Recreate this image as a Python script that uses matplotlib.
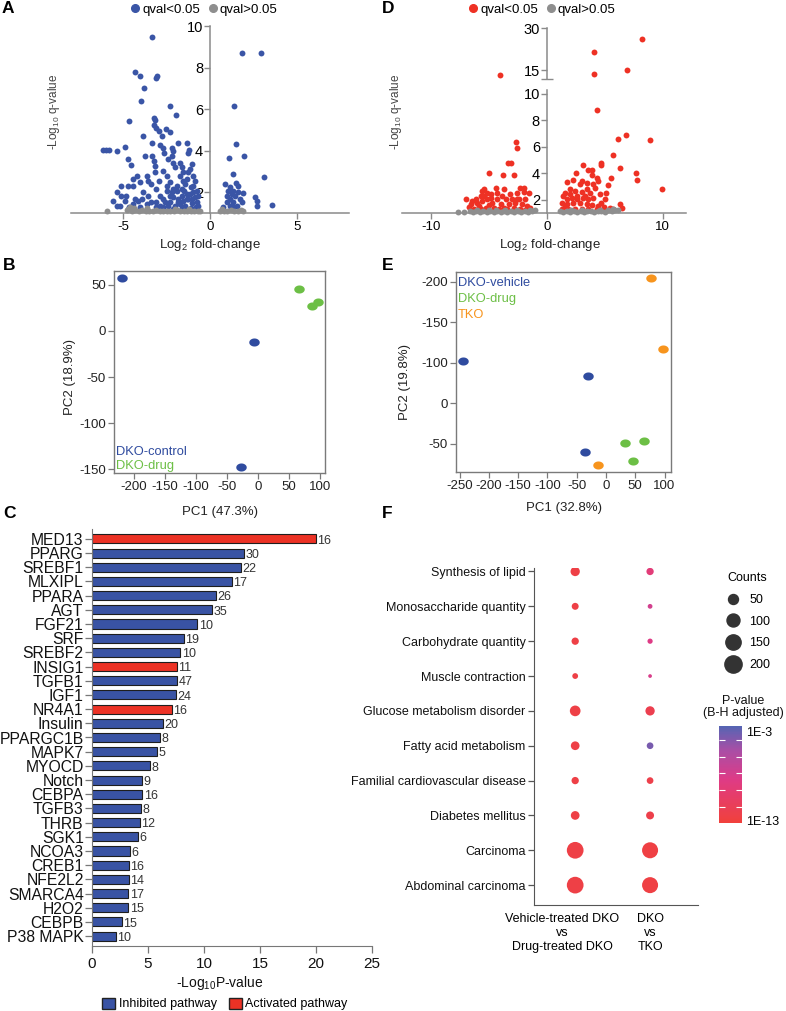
import numpy as np
import matplotlib.pyplot as plt
from matplotlib.path import Path
from matplotlib.patches import Patch
from matplotlib.lines import Line2D
from matplotlib.colors import LinearSegmentedColormap, Normalize
from matplotlib.transforms import ScaledTranslation

plt.rcParams['font.family'] = ['Liberation Sans', 'DejaVu Sans']
plt.rcParams['mathtext.fontset'] = 'custom'
plt.rcParams['mathtext.rm'] = 'Liberation Sans'
plt.rcParams['mathtext.it'] = 'Liberation Sans:italic'
plt.rcParams['mathtext.bf'] = 'Liberation Sans:bold'
plt.rcParams['mathtext.default'] = 'regular'
plt.rcParams['axes.unicode_minus'] = False

# ---------------- data ----------------
# A: volcano, DKO-control vs DKO-drug
a_sig_x = [-3.33, -4.29, -4.02, -3.04, -3.08, -3.79, -3.96, -2.29, -1.96, -3.23, -3.15, -4.67, -3.25, -3.08,
           -2.56, -2.29, -2.96, -2.75, -3.87, -1.87, -3.31, -2.88, -1.35, -1.23, -1.29, -6.15, -5.96, -5.81,
           -5.38, -4.9, -3.75, -4.71, -4.52, -3.31, -3.25, -2.73, -2.65, -2.21, -2.12, -3.15, -1.73, -1.63,
           -1.58, -4.46, -4.23, -4.04, -3.65, -3.56, -4.42, -5.1, -4.71, -5.38, -5.1, -5.58, -5.35, -4.9,
           -4.81, -4.33, -4.13, -3.85, -3.94,
           -3.37, -3.17, -2.92, -2.69, -2.5, -2.4, -2.21, -2.12, -2.02, -3.08, -2.88, -3.56, -3.37, -3.65,
           -3.08, -2.69, -2.5, -2.31, -1.73, -1.58, -1.44, -1.35, -1.25, -1.15, -1.06, -1.48, -1.12, -0.96,
           -0.87, -0.77, -0.67, -1.06, -1.35, -1.63, -1.92, -2.12, -2.31, -2.02, -1.73, -1.44, -1.25, -1.15,
           -1.54, -1.83, -2.21, -2.5, -2.69, -2.4, -2.88, -3.08, -4.04, -4.42, -4.69, -5.19, -0.96, -0.77,
           -0.87, -1.0, -0.67, -1.35, -1.63, -1.92, -2.12, -2.31, -2.6, -1.83, -1.06, -0.81, -1.12, -1.63,
           -2.12,
           1.87, 2.94, 1.37, 1.5, 1.96, 1.12, 1.31, 3.13, 1.5, 1.63, 1.88, 2.6, 2.69, 2.69, 3.56, 0.87, 1.15,
           1.35, 0.96, 1.15, 1.35, 1.54, 0.96, 1.15, 0.77, 1.73, 1.44, 1.25, 1.63, 1.83, 1.35, 1.06]
a_sig_y = [9.49, 7.8, 7.58, 7.58, 7.5, 7.02, 6.41, 6.14, 5.74, 5.58, 5.5, 5.42, 5.23, 5.1,
           5.06, 4.9, 4.93, 4.7, 4.7, 4.39, 4.39, 4.26, 4.35, 4.03, 3.88, 4.02, 4.02, 4.02,
           3.99, 4.2, 3.75, 3.59, 3.32, 3.75, 3.51, 4.15, 3.9, 4.15, 3.99, 3.27, 3.43, 3.19,
           2.95, 2.63, 2.79, 2.47, 2.79, 2.55, 2.31, 2.31, 2.31, 2.0, 1.84, 1.6, 1.36, 1.6,
           1.84, 1.67, 1.6, 2.0, 1.67,
           2.39, 2.95, 2.55, 3.03, 2.79, 3.59, 3.75, 3.43, 3.19, 2.15, 1.84, 1.84, 1.52, 1.44,
           1.52, 1.67, 2.31, 2.47, 2.79, 2.55, 2.39, 2.63, 2.95, 3.11, 3.35, 2.07, 2.23, 1.99,
           1.75, 1.52, 1.36, 1.48, 1.67, 1.84, 2.07, 1.75, 1.52, 1.36, 1.44, 1.36, 1.67, 1.91,
           1.59, 1.67, 1.99, 2.07, 1.28, 1.36, 1.36, 1.28, 1.28, 1.44, 1.28, 1.33, 2.31, 2.07,
           2.55, 2.79, 1.83, 1.91, 2.15, 2.31, 2.15, 1.84, 1.52, 1.52, 1.67, 1.28, 1.23, 1.23,
           1.2,
           8.69, 8.69, 6.17, 4.31, 3.75, 3.67, 2.9, 2.74, 2.42, 2.31, 1.95, 1.75, 1.56, 1.32, 1.39, 2.39, 2.23,
           2.07, 1.83, 1.67, 1.52, 1.36, 1.52, 1.36, 1.28, 1.67, 1.83, 1.91, 1.99, 1.52, 1.28, 2.07]
a_ns_x = [-5.9, -4.8, -4.7, -4.5, -4.3, -4.1, -3.9, -3.7, -3.5, -3.3, -3.1, -2.9, -2.7, -2.5, -2.3, -2.1,
          -1.9, -1.7, -1.5, -1.3, -1.1, -0.9, -0.7, -0.55, -2.0, -1.2, -3.6, -4.4, -4.6,
          0.6, 0.7, 0.8, 1.0, 1.2, 1.4, 1.6, 1.8, 1.9]
a_ns_y = [1.1, 1.15, 1.2, 1.1, 1.15, 1.1, 1.15, 1.1, 1.12, 1.1, 1.15, 1.1, 1.12, 1.08, 1.12, 1.1,
          1.15, 1.1, 1.12, 1.08, 1.12, 1.1, 1.12, 1.1, 1.2, 1.2, 1.22, 1.25, 1.3,
          1.1, 1.2, 1.12, 1.1, 1.15, 1.1, 1.12, 1.15, 1.1]

# D: volcano, DKO vs TKO
d_sig_x = [-2.63, -2.57, -3.37, -3.09, -4.97, -3.77, -2.86, -7.0, -2.0, -1.57, -1.94, -5.43, -5.57, -4.43,
           -3.71, -2.57, -2.29, -5.2, -4.86, -4.29, -5.71, -6.14, -6.43, -6.0, -6.71, -6.29, -5.57, -5.14,
           -4.71, -4.29, -4.0, -3.57, -3.29, -3.0, -2.71, -2.43, -2.14, -1.86, -1.71, -2.86, -3.71, -4.57,
           -5.29, -5.71, -5.0, -4.14, -3.43, -2.29, -1.86, -1.43, -5.86, -4.86, -3.86, -3.14, -5.43, -6.57,
           -2.57,
           4.29, 6.14, 6.86, 8.86, 5.71, 6.34, 7.66, 7.77, 9.94, 4.66, 4.66, 3.14, 3.51, 3.86, 2.49, 2.29,
           1.71, 5.57, 5.29, 3.86, 4.29, 4.43, 3.0, 3.43, 4.0, 4.14, 3.43, 2.86, 1.57, 2.0, 2.43, 3.0, 3.71,
           4.57, 5.09, 5.0, 4.71, 1.43, 1.71, 2.14, 2.57, 3.09, 3.57, 4.0, 1.29, 1.71, 2.29, 2.86, 3.43, 3.86,
           4.43, 4.91, 5.43, 6.29, 6.51, 1.29, 1.86, 2.43, 3.0, 3.57, 4.29, 2.0, 2.57, 3.29, 5.71, 1.57,
           -4.05, 4.1, 4.1, 6.9, 8.2]
d_sig_y = [6.4, 5.9, 4.79, 4.79, 4.01, 3.84, 3.84, 2.08, 2.9, 2.53, 2.58, 2.83, 2.65, 2.9,
           2.78, 2.53, 2.9, 2.53, 2.4, 2.53, 2.28, 2.03, 1.9, 1.72, 1.47, 1.27, 1.9, 2.03,
           1.77, 2.03, 1.65, 2.03, 1.65, 2.03, 1.72, 2.03, 1.65, 2.03, 1.52, 1.4, 1.4, 1.4,
           1.4, 1.27, 1.57, 1.27, 1.27, 1.27, 1.22, 1.4, 1.52, 2.15, 2.28, 2.4, 2.28, 1.65,
           2.03,
           8.79, 6.6, 6.93, 6.55, 5.37, 4.39, 3.99, 3.46, 2.83, 4.79, 4.62, 4.62, 4.24, 4.24, 4.04, 3.53,
           3.33, 3.66, 3.13, 3.91, 3.66, 3.41, 3.41, 3.28, 3.16, 2.91, 2.83, 3.16, 2.53, 2.78, 2.65, 2.58, 2.53,
           2.4, 2.53, 2.03, 1.77, 2.28, 2.03, 2.15, 2.28, 2.15, 2.03, 2.15, 1.77, 1.65, 1.77, 1.72, 1.65, 1.57,
           1.52, 1.47, 1.4, 1.65, 1.4, 1.27, 1.32, 1.27, 1.32, 1.27, 1.32, 2.4, 2.03, 2.28, 1.32, 1.52,
           13.2, 21.4, 13.6, 15.0, 26.0]
d_ns_x = [-7.7, -7.15, -6.6, -6.4, -6.1, -5.8, -5.5, -5.2, -4.9, -4.6, -4.3, -4.0, -3.7, -3.4, -3.1, -2.8,
          -2.5, -2.2, -1.9, -1.6, -1.3, -1.05, -6.0, -5.0, -4.4, -3.6, -2.6, -1.5,
          1.15, 1.4, 1.7, 2.0, 2.3, 2.6, 2.9, 3.2, 3.5, 3.8, 4.1, 4.4, 4.7, 5.0, 5.3, 5.6, 5.9, 6.1,
          2.1, 3.0, 4.6, 5.7]
d_ns_y = [1.1, 1.1, 1.15, 1.1, 1.12, 1.1, 1.15, 1.1, 1.12, 1.1, 1.15, 1.1, 1.12, 1.1, 1.15, 1.1,
          1.12, 1.1, 1.15, 1.1, 1.12, 1.2, 1.2, 1.22, 1.2, 1.22, 1.2, 1.22,
          1.12, 1.1, 1.15, 1.1, 1.12, 1.1, 1.15, 1.1, 1.12, 1.15, 1.1, 1.12, 1.15, 1.1, 1.2, 1.15, 1.25, 1.2,
          1.22, 1.2, 1.22, 1.3]

# B: PCA DKO-control vs DKO-drug
b_ctrl_pc1 = [-219, -6, -28]
b_ctrl_pc2 = [57, -12, -148]
b_drug_pc1 = [66, 87, 97]
b_drug_pc2 = [45, 27, 31]

# E: PCA DKO-vehicle / DKO-drug / TKO
e_veh_pc1 = [-244, -31, -36]
e_veh_pc2 = [-102, -83, 10]
e_drug_pc1 = [32, 65, 46]
e_drug_pc2 = [-1, -3, 22]
e_tko_pc1 = [77, 97, -14]
e_tko_pc2 = [-204, -117, 26]
e_ytick_labels = ['-200', '-150', '-100', '0', '-50']

# C: upstream regulators
path_names = ['MED13', 'PPARG', 'SREBF1', 'MLXIPL', 'PPARA', 'AGT', 'FGF21', 'SRF', 'SREBF2', 'INSIG1',
              'TGFB1', 'IGF1', 'NR4A1', 'Insulin', 'PPARGC1B', 'MAPK7', 'MYOCD', 'Notch', 'CEBPA', 'TGFB3',
              'THRB', 'SGK1', 'NCOA3', 'CREB1', 'NFE2L2', 'SMARCA4', 'H2O2', 'CEBPB', 'P38 MAPK']
path_logp = [20.0, 13.6, 13.3, 12.5, 11.1, 10.7, 9.4, 8.2, 7.9, 7.6, 7.6, 7.5, 7.1, 6.3, 6.1, 5.8, 5.15,
             4.5, 4.5, 4.35, 4.25, 4.1, 3.4, 3.3, 3.3, 3.25, 3.25, 2.65, 2.1]
path_counts = [16, 30, 22, 17, 26, 35, 10, 19, 10, 11, 47, 24, 16, 20, 8, 5, 8, 9, 16, 8, 12, 6, 6, 16,
               14, 17, 15, 15, 10]
path_activated = ['MED13', 'INSIG1', 'NR4A1']

# F: disease / function enrichment
f_terms = ['Synthesis of lipid', 'Monosaccharide quantity', 'Carbohydrate quantity', 'Muscle contraction',
           'Glucose metabolism disorder', 'Fatty acid metabolism', 'Familial cardiovascular disease',
           'Diabetes mellitus', 'Carcinoma', 'Abdominal carcinoma']
f_groups = ['Vehicle-treated DKO\nvs\nDrug-treated DKO', 'DKO\nvs\nTKO']
f_counts_1 = [41, 17, 20, 9, 60, 34, 20, 34, 185, 185]
f_counts_2 = [20, 4, 6, 1, 41, 15, 15, 26, 167, 167]
f_logp_1 = [-12.6, -12.6, -12.6, -12.6, -12.6, -12.6, -12.6, -12.6, -12.6, -12.6]
f_logp_2 = [-9.3, -7.6, -8.4, -8.0, -12.0, -3.5, -12.3, -12.3, -12.7, -12.7]
legend_counts = [50, 100, 150, 200]

# ---------------- style ----------------
blue_v = '#3a55a6'
red_v = '#ee3124'
grey_v = '#8e8e8e'
pca_blue = '#2f4b9f'
pca_green = '#6cbf45'
pca_orange = '#f7941d'
bar_blue = '#3953a4'
bar_red = '#ec3225'
axis_grey = '#8a8a8a'

W, H = 786, 1011
fig = plt.figure(figsize=(W / 100, H / 100), dpi=100)


def box(l, t, r, b):
    return [l / W, 1 - b / H, (r - l) / W, (b - t) / H]


def volc_style(ax):
    for s in ['top', 'right']:
        ax.spines[s].set_visible(False)
    ax.spines['left'].set_position(('data', 0))
    for s in ['left', 'bottom']:
        ax.spines[s].set_color(axis_grey)
        ax.spines[s].set_linewidth(1.1)
    ax.tick_params(colors=axis_grey, labelcolor='black', length=4, width=1)
    ax.tick_params(axis='y', labelsize=10.5, pad=1)
    ax.tick_params(axis='x', labelsize=9.5, pad=2)
    ax.patch.set_alpha(0)


def volc_legend(ax, col, cx):
    h = [Line2D([], [], marker='o', ls='', color=col, ms=5.5),
         Line2D([], [], marker='o', ls='', color=grey_v, ms=5.5)]
    ax.legend(h, ['qval<0.05', 'qval>0.05'], ncol=2, loc='center', frameon=False,
              bbox_to_anchor=(cx / W, 1 - 10 / H), bbox_transform=fig.transFigure,
              handlelength=0.7, handletextpad=0.2, columnspacing=0.6, fontsize=9.5, borderpad=0)


def pca_style(ax):
    for s in ax.spines.values():
        s.set_color('#7a7a7a')
        s.set_linewidth(1)
    ax.tick_params(colors='#7a7a7a', labelcolor='#222222', length=4, width=0.9, labelsize=9.5, pad=2)


# ---------------- A ----------------
axA = fig.add_axes(box(71, 26, 349, 213))
volc_style(axA)
axA.scatter(a_sig_x, a_sig_y, s=18, color=blue_v, lw=0, zorder=3, clip_on=False)
axA.scatter(a_ns_x, a_ns_y, s=18, color=grey_v, lw=0, zorder=3, clip_on=False)
axA.set_xlim(-8, 8)
axA.set_ylim(1, 10)
axA.set_xticks([-5, 0, 5])
axA.set_yticks([2, 4, 6, 8, 10])
axA.set_ylabel('-Log$_{10}$ q-value', fontsize=8.5, color='#444444')
axA.yaxis.set_label_coords(-0.034, 0.54)
axA.text(0.5, -0.172, 'Log$_2$ fold-change', transform=axA.transAxes, ha='center', va='center',
         fontsize=9.5, color='#222222')
volc_legend(axA, blue_v, 204)

# ---------------- D (broken y axis) ----------------
d_sig_x = np.array(d_sig_x)
d_sig_y = np.array(d_sig_y)
low = d_sig_y <= 10.3
axDl = fig.add_axes(box(402, 90, 686, 213))
axDu = fig.add_axes(box(402, 28, 686, 79))
for ax in (axDl, axDu):
    volc_style(ax)
    ax.set_xlim(-12.5, 12)
axDl.scatter(d_sig_x[low], d_sig_y[low], s=18, color=red_v, lw=0, zorder=3, clip_on=False)
axDl.scatter(d_ns_x, d_ns_y, s=18, color=grey_v, lw=0, zorder=3, clip_on=False)
axDu.scatter(d_sig_x[~low], d_sig_y[~low], s=18, color=red_v, lw=0, zorder=3, clip_on=False)
axDl.set_ylim(1, 10.3)
axDu.set_ylim(11.8, 30)
axDl.set_yticks([2, 4, 6, 8, 10])
axDu.set_yticks([15, 30])
axDu.set_yticks([11.8], minor=True)
axDu.tick_params(axis='y', which='minor', direction='inout', length=8, width=1, colors=axis_grey)
axDu.spines['bottom'].set_visible(False)
axDu.set_xticks([])
axDl.set_xticks([-10, 0, 10])
fig.text(396 / W, 1 - 112 / H, '-Log$_{10}$ q-value', rotation=90, ha='center', va='center',
         fontsize=8.5, color='#444444')
fig.text(550 / W, 1 - 245 / H, 'Log$_2$ fold-change', ha='center', va='center', fontsize=9.5,
         color='#222222')
volc_legend(axDl, red_v, 542)

# ellipse marker for PCA plots
t = np.linspace(0, 2 * np.pi, 41)
ell = Path(np.column_stack([1.3 * np.cos(t), np.sin(t)]))

# ---------------- B ----------------
axB = fig.add_axes(box(114, 271, 325, 473))
pca_style(axB)
axB.scatter(b_ctrl_pc1, b_ctrl_pc2, marker=ell, s=57, color=pca_blue, lw=0)
axB.scatter(b_drug_pc1, b_drug_pc2, marker=ell, s=57, color=pca_green, lw=0)
axB.set_xlim(-232, 108)
axB.set_ylim(-154, 65)
axB.set_xticks([-200, -150, -100, -50, 0, 50, 100])
axB.set_yticks([-150, -100, -50, 0, 50])
axB.text(0.5, -0.193, 'PC1 (47.3%)', transform=axB.transAxes, ha='center', va='center',
         fontsize=9.5, color='#222222')
axB.text(-0.209, 0.475, 'PC2 (18.9%)', transform=axB.transAxes, ha='center', va='center',
         rotation=90, fontsize=9.5, color='#222222')
axB.text(0.01, 0.104, 'DKO-control', transform=axB.transAxes, va='center', fontsize=9.3, color=pca_blue)
axB.text(0.01, 0.035, 'DKO-drug', transform=axB.transAxes, va='center', fontsize=9.3, color=pca_green)

# ---------------- E ----------------
axE = fig.add_axes(box(456, 272, 671, 472))
pca_style(axE)
axE.scatter(e_veh_pc1, e_veh_pc2, marker=ell, s=57, color=pca_blue, lw=0)
axE.scatter(e_drug_pc1, e_drug_pc2, marker=ell, s=57, color=pca_green, lw=0)
axE.scatter(e_tko_pc1, e_tko_pc2, marker=ell, s=57, color=pca_orange, lw=0)
axE.set_xlim(-256, 111)
axE.set_ylim(35, -212)
axE.set_xticks([-250, -200, -150, -100, -50, 0, 50, 100])
axE.set_yticks([-200, -150, -100, -50, 0])
axE.set_yticklabels(e_ytick_labels)
axE.text(0.5, -0.18, 'PC1 (32.8%)', transform=axE.transAxes, ha='center', va='center',
         fontsize=9.5, color='#222222')
axE.text(-0.237, 0.45, 'PC2 (19.8%)', transform=axE.transAxes, ha='center', va='center',
         rotation=90, fontsize=9.5, color='#222222')
axE.text(0.01, 0.945, 'DKO-vehicle', transform=axE.transAxes, va='center', fontsize=9.3, color=pca_blue)
axE.text(0.01, 0.865, 'DKO-drug', transform=axE.transAxes, va='center', fontsize=9.3, color=pca_green)
axE.text(0.01, 0.785, 'TKO', transform=axE.transAxes, va='center', fontsize=9.3, color=pca_orange)

# ---------------- C ----------------
axC = fig.add_axes(box(92, 529, 372, 946))
ypos = np.arange(len(path_names))
bar_cols = [bar_red if n in path_activated else bar_blue for n in path_names]
axC.barh(ypos, path_logp, height=0.64, color=bar_cols, edgecolor='#1e1e1e', linewidth=0.8)
for yy, v, c in zip(ypos, path_logp, path_counts):
    axC.text(v + 0.12, yy + 0.12, str(c), ha='left', va='center', fontsize=9, color='#333333')
axC.set_yticks(ypos)
axC.set_yticklabels(path_names, fontsize=11.3)
axC.set_ylim(len(path_names) - 0.3, -0.7)
axC.set_xlim(0, 25)
axC.set_xticks([0, 5, 10, 15, 20, 25])
for s in ['top', 'right']:
    axC.spines[s].set_visible(False)
for s in ['left', 'bottom']:
    axC.spines[s].set_color('#777777')
axC.tick_params(colors='#777777', labelcolor='#111111', length=5, width=0.9, pad=1)
axC.tick_params(axis='x', labelsize=11, pad=3)
axC.text(0.457, -0.089, '-Log$_{10}$P-value', transform=axC.transAxes, ha='center', va='center',
         fontsize=10, color='#111111')
fig.legend([Patch(fc=bar_blue, ec='#222222'), Patch(fc=bar_red, ec='#222222')],
           ['Inhibited pathway', 'Activated pathway'], ncol=2, loc='center', frameon=False,
           bbox_to_anchor=(225 / W, 1 - 1004 / H), fontsize=9, handlelength=1.0, handleheight=1.0,
           handletextpad=0.3, columnspacing=1.0, borderpad=0)

# ---------------- F ----------------
def dot_px(c):
    return 2.7 + 1.03 * np.sqrt(c)


cmap = LinearSegmentedColormap.from_list('pv', [(0, '#f0302a'), (0.45, '#dc2a7c'),
                                                (0.75, '#a23f9e'), (1, '#4657ad')])
norm = Normalize(-13.34, -2.32)
axF = fig.add_axes(box(534, 568, 698, 905))
fy = np.arange(len(f_terms))
for gx, cnt, lp in [(1, f_counts_1, f_logp_1), (2, f_counts_2, f_logp_2)]:
    sc = axF.scatter([gx] * len(f_terms), fy, s=(0.72 * dot_px(np.array(cnt))) ** 2, c=lp,
                     cmap=cmap, norm=norm, lw=0, alpha=0.92, zorder=3)
axF.set_xlim(0.45, 2.64)
axF.set_ylim(len(f_terms) - 0.43, -0.1)
axF.set_yticks(fy)
axF.set_yticklabels(f_terms, fontsize=9)
axF.set_xticks([1, 2])
axF.set_xticklabels(f_groups, fontsize=9)
axF.tick_params(axis='x', length=0, pad=6)
axF.tick_params(axis='y', length=4, width=0.9, colors='#555555', labelcolor='#111111', pad=2)
for s in ['top', 'right']:
    axF.spines[s].set_visible(False)
for s in ['left', 'bottom']:
    axF.spines[s].set_color('#555555')
lab0 = axF.get_xticklabels()[0]
lab0.set_transform(lab0.get_transform() + ScaledTranslation(-0.13, 0, fig.dpi_scale_trans))

cax = fig.add_axes(box(719, 726, 742, 823))
cb = fig.colorbar(sc, cax=cax)
cb.outline.set_visible(False)
cb.set_ticks([-3, -13])
cb.set_ticklabels(['1E-3', '1E-13'])
cax.tick_params(which='major', length=0, labelsize=9, pad=3)
cax.set_yticks(np.linspace(-3.9, -11.5, 5), minor=True)
cax.tick_params(which='minor', length=4, width=0.8, color='white', direction='in', left=True, right=True)
fig.text(743 / W, 1 - 707 / H, 'P-value\n(B-H adjusted)', ha='center', va='center', fontsize=9,
         color='#111111', linespacing=1.1)

cnt_handles = [Line2D([], [], marker='o', ls='', color='#333333', ms=0.72 * dot_px(c)) for c in legend_counts]
axF.legend(cnt_handles, [str(c) for c in legend_counts], title='Counts', loc='upper left',
           bbox_to_anchor=(717.6 / W, 1 - 566 / H), bbox_transform=fig.transFigure, frameon=False,
           fontsize=9, title_fontsize=9, handlelength=1.5, handletextpad=0.53, labelspacing=0.78,
           borderpad=0)

# ---------------- panel letters ----------------
for letter, x, y in [('A', 2, 13), ('D', 382, 13), ('B', 3, 270), ('E', 382, 270), ('C', 3, 518),
                     ('F', 382, 518)]:
    fig.text(x / W, 1 - y / H, letter, fontsize=12.5, fontweight='bold', va='baseline')

fig.savefig('out.png', dpi=100)
